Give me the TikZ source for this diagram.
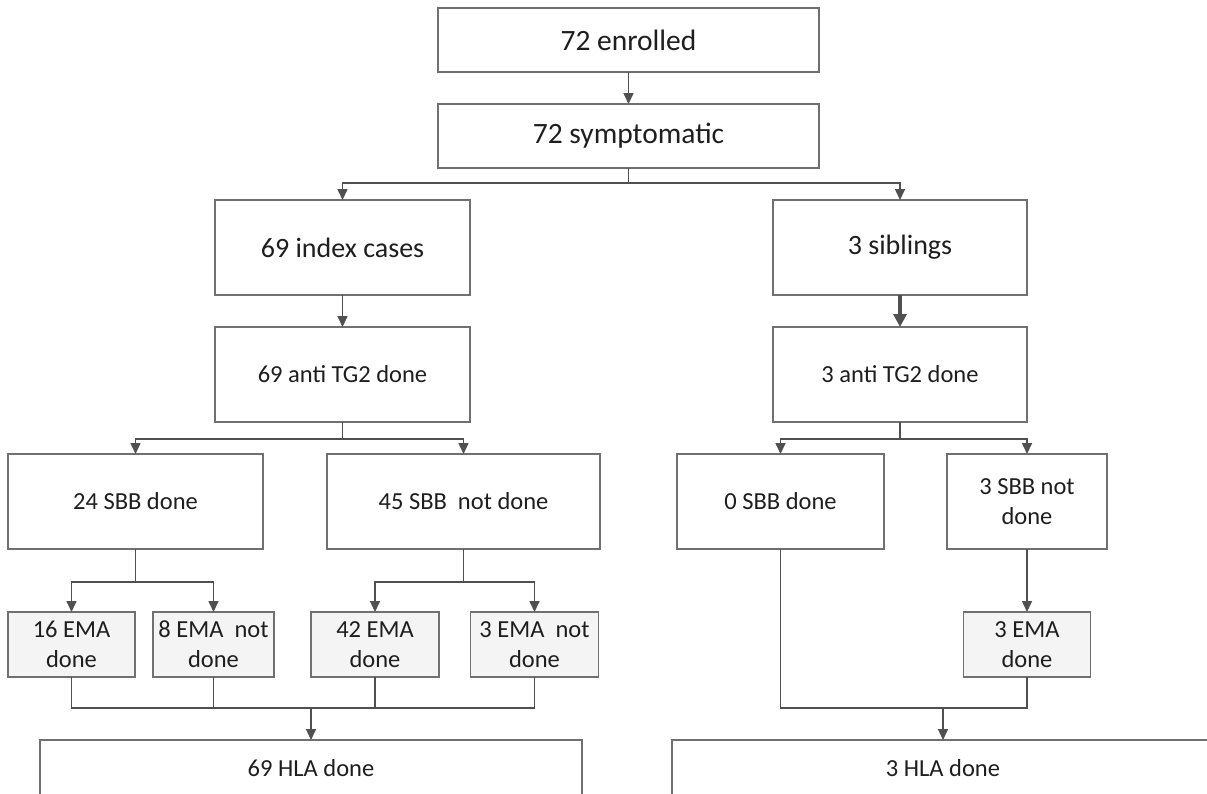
\documentclass[tikz,border=0pt]{standalone}
\usepackage{fontspec}
\setmainfont{Carlito}
\usetikzlibrary{arrows.meta}
\definecolor{lnc}{HTML}{505050}
\definecolor{bdc}{HTML}{707070}
\definecolor{emaf}{HTML}{F4F4F4}
\definecolor{txc}{HTML}{1E1E1E}
\begin{document}
\begin{tikzpicture}[x=1pt,y=-1pt,
  box/.style={draw=bdc, line width=1.3pt, fill=white, inner sep=0pt, outer sep=0pt,
    text=txc, align=center, font=\fontsize{24.5}{30}\selectfont},
  ema/.style={box, fill=emaf},
  big/.style={font=\fontsize{29.5}{34}\selectfont},
  mid/.style={font=\fontsize{28}{32}\selectfont},
  conn/.style={draw=lnc, line width=1.6pt},
  arr/.style={conn, -{Triangle[length=11pt,width=10pt]}},
  boldarr/.style={draw=lnc, line width=3.5pt, -{Triangle[length=13pt,width=13pt]}}]
\useasboundingbox (0,0) rectangle (1207,793);
\clip (0,0) rectangle (1207,793);
\fill[white] (0,0) rectangle (1207,793);

% boxes
\node[box,big,minimum width=381pt,minimum height=64pt] (enr) at (628.5,40) {72 enrolled};
\node[box,big,minimum width=381pt,minimum height=64pt] (sym) at (628.5,136) {72 symptomatic};
\node[box,mid,minimum width=255pt,minimum height=95pt] (idx) at (342.5,247.5) {69 index cases};
\node[box,mid,minimum width=254pt,minimum height=95pt] (sib) at (900,247.5) {3 siblings};
\node[box,minimum width=255pt,minimum height=95pt] (tgl) at (342.5,374.5) {69 anti TG2 done};
\node[box,minimum width=254pt,minimum height=95pt] (tgr) at (900,374.5) {3 anti TG2 done};
\node[box,minimum width=255pt,minimum height=95pt] (s24) at (135.5,501.5) {24 SBB done};
\node[box,minimum width=273pt,minimum height=95pt] (s45) at (463.5,501.5) {45 SBB~ not done};
\node[box,minimum width=207pt,minimum height=95pt] (s0) at (780.5,501.5) {0 SBB done};
\node[box,minimum width=160pt,minimum height=95pt] (s3) at (1027,501.5) {3 SBB not\\done};
\node[ema,minimum width=127pt,minimum height=65pt] (e16) at (71.5,644.5) {16 EMA\\done};
\node[ema,minimum width=121pt,minimum height=65pt] (e8) at (213.5,644.5) {8 EMA~ not\\done};
\node[ema,minimum width=128pt,minimum height=65pt] (e42) at (375,644.5) {42 EMA\\done};
\node[ema,minimum width=128pt,minimum height=65pt] (e3n) at (534.5,644.5) {3 EMA~ not\\done};
\node[ema,minimum width=127pt,minimum height=65pt] (e3) at (1027,644.5) {3 EMA\\done};
\node[box,minimum width=542pt,minimum height=56pt] (h69) at (311,768) {69 HLA done};
\node[box,minimum width=542pt,minimum height=56pt] (h3) at (943,768) {3 HLA done};

% junctions
\coordinate (j1) at (628.5,183);
\coordinate (j2) at (342.5,439);
\coordinate (j3) at (900,439);
\coordinate (j4) at (135.5,582);
\coordinate (j5) at (463.5,582);
\coordinate (b1) at (311,708);
\coordinate (b2) at (943,708);

% connectors
\draw[arr] (enr.south) -- (sym.north);
\draw[conn] (sym.south) -- (j1);
\draw[arr] (j1) -| (idx.north);
\draw[arr] (j1) -| (sib.north);
\draw[arr] (idx.south) -- (tgl.north);
\draw[boldarr] (sib.south) -- (tgr.north);
\draw[conn] (tgl.south) -- (j2);
\draw[arr] (j2) -| (s24.north);
\draw[arr] (j2) -| (s45.north);
\draw[conn] (tgr.south) -- (j3);
\draw[arr] (j3) -| (s0.north);
\draw[arr] (j3) -| (s3.north);
\draw[conn] (s24.south) -- (j4);
\draw[arr] (j4) -| (e16.north);
\draw[arr] (j4) -| (e8.north);
\draw[conn] (s45.south) -- (j5);
\draw[arr] (j5) -| (e42.north);
\draw[arr] (j5) -| (e3n.north);
\draw[arr] (s3.south) -- (e3.north);
\draw[conn] (e16.south) |- (b1);
\draw[conn] (e3n.south) |- (b1);
\draw[conn] (e8.south) -- (e8.south |- b1);
\draw[conn] (e42.south) -- (e42.south |- b1);
\draw[arr] (b1) -- (h69.north);
\draw[conn] (s0.south) |- (b2);
\draw[conn] (e3.south) |- (b2);
\draw[arr] (b2) -- (h3.north);
\end{tikzpicture}
\end{document}
